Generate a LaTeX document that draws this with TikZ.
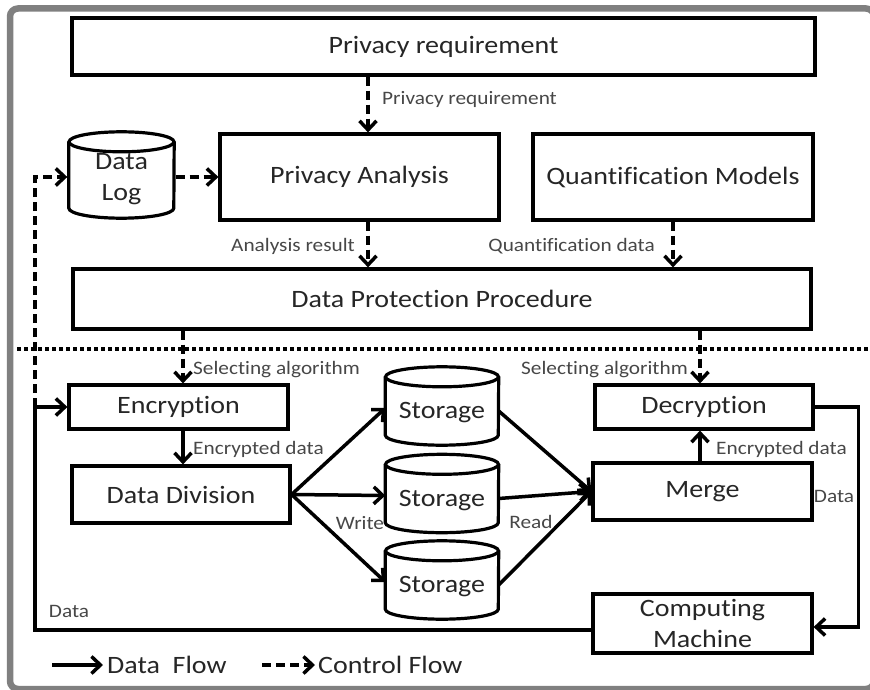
\documentclass[tikz,border=0pt]{standalone}
\usepackage{fontspec}
\setmainfont{Carlito}[FakeStretch=1.12, Ligatures=NoCommon]
\usetikzlibrary{arrows.meta}
\newcommand\boxfont{\fontsize{25}{31}\selectfont}
\newcommand\lblfont{\fontsize{19}{22}\selectfont}

\begin{document}
\begin{tikzpicture}[x=1pt, y=-1pt,
    box/.style={draw, line width=3.2pt, inner sep=0pt, text=black!85, font=\boxfont, align=center},
    drum/.style={inner sep=0pt, text=black!85, font=\boxfont, align=center},
    drumline/.style={line width=3.2pt},
    data/.style={line width=3.5pt, -{Straight Barb[length=9pt, width=17pt]}},
    ctrl/.style={data, dash pattern=on 9pt off 5pt},
    lbl/.style={text=black!72, font=\lblfont, inner sep=0pt},
    legend/.style={text=black!85, font=\boxfont, inner sep=0pt, anchor=west}]
    \useasboundingbox (0,0) rectangle (870,690);
    \draw[line width=6.5pt, gray, rounded corners=8pt] (10,8.5) rectangle (874,689);

    % upper part
    \node[box, minimum width=743pt, minimum height=57pt] (prq) at (443.5,46.5) {Privacy requirement};
    \node[box, minimum width=279pt, minimum height=86pt] (pa) at (359.5,177) {Privacy Analysis};
    \node[box, minimum width=280pt, minimum height=86pt] (qm) at (673,177) {Quantification Models};
    \node[drum, minimum width=105pt, minimum height=86pt] (log) at (121.5,179) {Data\\Log};
    \node[box, minimum width=738pt, minimum height=60pt] (dpp) at (442,299) {Data Protection Procedure};

    \draw[line width=3.5pt, dash pattern=on 3.5pt off 3.5pt] (17,349) -- (870,349);

    % lower part
    \node[box, minimum width=219pt, minimum height=44pt] (enc) at (178.5,407) {Encryption};
    \node[box, minimum width=218pt, minimum height=57pt] (dd) at (181,494.5) {Data Division};
    \node[drum, minimum width=113pt, minimum height=78pt] (st1) at (442,413) {Storage};
    \node[drum, minimum width=113pt, minimum height=78pt] (st2) at (442,500.5) {Storage};
    \node[drum, minimum width=113pt, minimum height=78pt] (st3) at (442,587) {Storage};
    \node[box, minimum width=218pt, minimum height=44pt] (dec) at (704,407) {Decryption};
    \node[box, minimum width=219pt, minimum height=57pt] (merge) at (702.5,491.5) {Merge};
    \node[box, minimum width=219pt, minimum height=59pt] (cm) at (702.5,623.5) {Computing\\Machine};
    \coordinate (lft) at (35,630);

    % cylinders round the drum nodes
    \foreach \s/\r/\t/\b in {log/52.5/6/14, st1/56.5/3/17, st2/56.5/3/17, st3/56.5/3/17} {
        \draw[drumline] ([yshift=-\t pt]\s.north west) -- ([yshift=\b pt]\s.south west)
            arc[start angle=180, end angle=360, x radius=\r pt, y radius=10pt]
            -- ([yshift=-\t pt]\s.north east);
        \draw[drumline] ([yshift=-\t pt]\s.north) ellipse [x radius=\r pt, y radius=10pt];
    }

    % control flow
    \draw[ctrl] ([xshift=8.5pt]pa.north |- prq.south) -- ([xshift=8.5pt]pa.north);
    \draw[ctrl] ([xshift=1.5pt]log.east |- pa.west) -- (pa.west);
    \draw[ctrl] ([xshift=8.5pt]pa.south) -- ([xshift=8.5pt]pa.south |- dpp.north);
    \draw[ctrl] (qm.south) -- (qm.south |- dpp.north);
    \draw[ctrl] ([xshift=4.5pt]enc.north |- dpp.south) -- ([xshift=4.5pt]enc.north);
    \draw[ctrl] ([xshift=-4pt]dec.north |- dpp.south) -- ([xshift=-4pt]dec.north);
    \draw[ctrl] (lft |- enc.west) |- ([xshift=-1.5pt]log.west |- pa.west);

    % data flow
    \draw[data] ([xshift=4.5pt]enc.south) -- ([xshift=4.5pt]enc.south |- dd.north);
    \foreach \s in {st1,st2,st3} {
        \draw[data] (dd.east) -- ([yshift=5pt]\s.west);
        \draw[data] ([yshift=2pt]\s.east) -- (merge.west);
    }
    \draw[data] ([xshift=-2.5pt]merge.north) -- ([xshift=-2.5pt]merge.north |- dec.south);
    \draw[data] (dec.east) -- ++(44,0) |- ([yshift=-3.5pt]cm.east);
    \draw[data] ([yshift=-6.5pt]cm.west) -- (lft) |- (enc.west);

    % labels
    \node[lbl, anchor=west] (lprq) at (382,99) {Privacy requirement};
    \node[lbl, anchor=east] (lana) at (355,246) {Analysis result};
    \node[lbl, anchor=east] (lqua) at (655,246) {Quantification data};
    \node[lbl, anchor=west] (lsel1) at (193,370) {Selecting algorithm};
    \node[lbl, anchor=east] (lsel2) at (688,370) {Selecting algorithm};
    \node[lbl, anchor=west] (lenc1) at (193,449) {Encrypted data};
    \node[lbl, anchor=west] (lenc2) at (716,449) {Encrypted data};
    \node[lbl] (lwrite) at (360,523) {Write};
    \node[lbl] (lread) at (531,522) {Read};
    \node[lbl] (ldata1) at (834,496) {Data};
    \node[lbl] (ldata2) at (69,611) {Data};

    % legend
    \node[legend] (lgd) at (107,665) {Data~~Flow};
    \node[legend] (lgc) at (318,665) {Control Flow};
    \draw[data] ([xshift=-55pt]lgd.west) -- ([xshift=-4pt]lgd.west);
    \draw[ctrl] ([xshift=-56pt]lgc.west) -- ([xshift=-3pt]lgc.west);
\end{tikzpicture}
\end{document}
